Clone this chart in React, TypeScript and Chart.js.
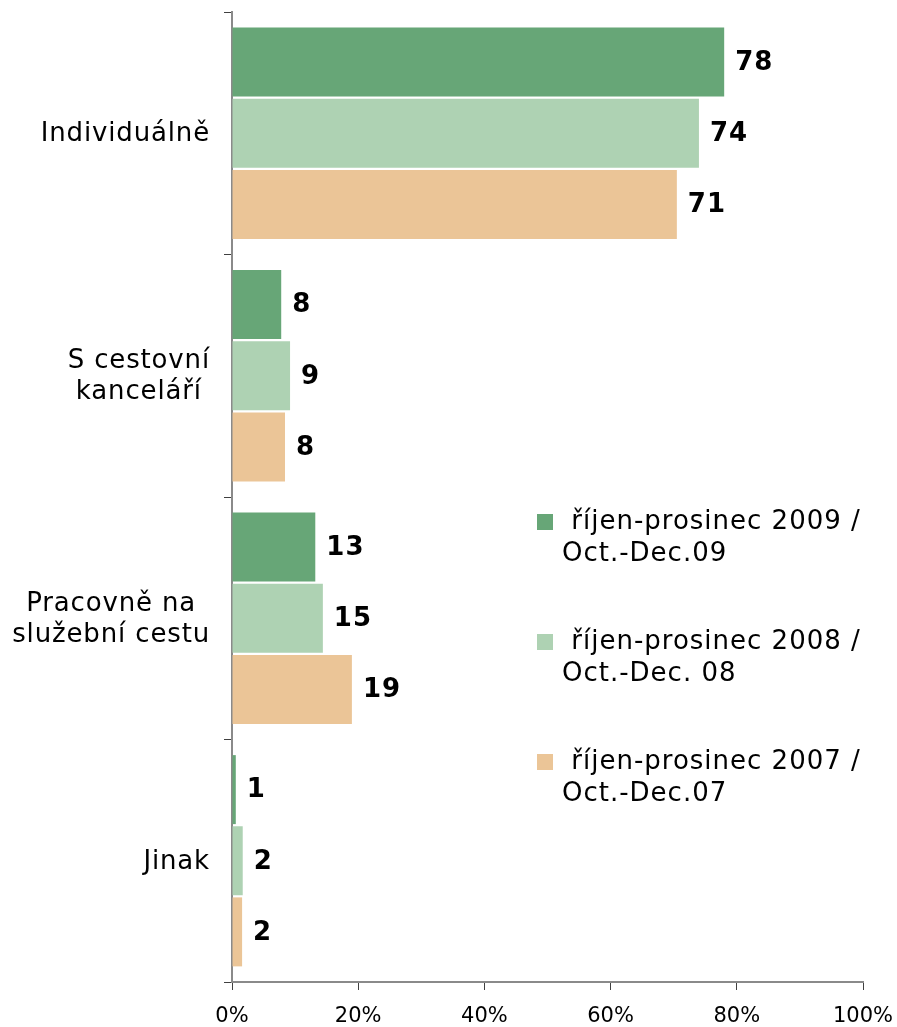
import React, { useEffect, useRef } from "react";
import { Chart, registerables } from "chart.js";

Chart.register(...registerables);

const categories: string[][] = [
  ["Individuálně"],
  ["S cestovní", "kanceláří"],
  ["Pracovně na", "služební cestu"],
  ["Jinak"],
];

const seriesNames: string[][] = [
  ["říjen-prosinec 2009 /", "Oct.-Dec.09"],
  ["říjen-prosinec 2008 /", "Oct.-Dec. 08"],
  ["říjen-prosinec 2007 /", "Oct.-Dec.07"],
];

const values2009 = [78.0, 7.8, 13.2, 0.6];
const values2008 = [74.0, 9.2, 14.4, 1.7];
const values2007 = [70.5, 8.4, 19.0, 1.6];

const labels2009 = ["78", "8", "13", "1"];
const labels2008 = ["74", "9", "15", "2"];
const labels2007 = ["71", "8", "19", "2"];

const xTicks = [0, 20, 40, 60, 80, 100];

const colors = ["#67A677", "#AED2B3", "#EBC597"];
const FONT = "'DejaVu Sans', Verdana, sans-serif";

const dataLabelPlugin = {
  id: "dataLabels",
  afterDatasetsDraw(chart: any) {
    const ctx = chart.ctx;
    const allLabels = [labels2009, labels2008, labels2007];
    ctx.save();
    ctx.font = `bold 26px ${FONT}`;
    (ctx as any).letterSpacing = "1px";
    ctx.fillStyle = "#000";
    ctx.textAlign = "left";
    ctx.textBaseline = "middle";
    chart.data.datasets.forEach((ds: any, di: number) => {
      const meta = chart.getDatasetMeta(di);
      meta.data.forEach((el: any, i: number) => {
        ctx.fillText(allLabels[di][i], el.x + 11, el.y + 1);
      });
    });
    ctx.restore();
  },
};

const categoryLabelPlugin = {
  id: "catLabels",
  afterDraw(chart: any) {
    const ctx = chart.ctx;
    const yScale = chart.scales.y;
    ctx.save();
    ctx.font = `26px ${FONT}`;
    (ctx as any).letterSpacing = "0.85px";
    ctx.fillStyle = "#000";
    ctx.textBaseline = "middle";
    ctx.textAlign = "center";
    const right = chart.chartArea.left - 22;
    const lh = 31;
    categories.forEach((lines, i) => {
      const cy = yScale.getPixelForValue(i) + 1;
      const w = Math.max(...lines.map((l) => ctx.measureText(l).width));
      const cx = right - w / 2;
      lines.forEach((l, j) => {
        ctx.fillText(l, cx, cy + (j - (lines.length - 1) / 2) * lh);
      });
    });
    ctx.restore();
  },
};

const legendPlugin = {
  id: "customLegend",
  afterDraw(chart: any) {
    const ctx = chart.ctx;
    ctx.save();
    ctx.font = `26px ${FONT}`;
    (ctx as any).letterSpacing = "1px";
    ctx.textBaseline = "middle";
    ctx.textAlign = "left";
    const x0 = 537;
    const y0 = 522;
    seriesNames.forEach((lines, i) => {
      const y = y0 + i * 120;
      ctx.fillStyle = colors[i];
      ctx.fillRect(x0, y - 8, 16, 16);
      ctx.fillStyle = "#000";
      ctx.fillText(" " + lines[0], x0 + 25, y);
      ctx.fillText(lines[1], x0 + 25, y + 32);
    });
    ctx.restore();
  },
};

export default function App() {
  const ref = useRef<HTMLCanvasElement>(null);
  useEffect(() => {
    if (!ref.current) return;
    const chart = new Chart(ref.current, {
      type: "bar",
      data: {
        labels: categories.map((c) => c.join(" ")),
        datasets: [
          { label: seriesNames[0].join(" "), data: values2009, backgroundColor: colors[0] },
          { label: seriesNames[1].join(" "), data: values2008, backgroundColor: colors[1] },
          { label: seriesNames[2].join(" "), data: values2007, backgroundColor: colors[2] },
        ],
      },
      options: {
        indexAxis: "y",
        responsive: false,
        animation: false,
        devicePixelRatio: 1,
        layout: { padding: { top: 12, right: 34, left: 0, bottom: 0 } },
        datasets: { bar: { categoryPercentage: 0.88, barPercentage: 0.97 } },
        plugins: { legend: { display: false }, tooltip: { enabled: false } },
        scales: {
          x: {
            min: 0,
            max: 100,
            afterBuildTicks: (s: any) => {
              s.ticks = xTicks.map((v) => ({ value: v }));
            },
            afterFit: (s: any) => {
              s.height = 45;
              s.paddingLeft = 0;
              s.paddingRight = 0;
            },
            ticks: {
              callback: (v: any) => v + "%",
              font: { family: FONT, size: 21 },
              color: "#000",
              padding: 14,
              maxRotation: 0,
            },
            grid: {
              drawOnChartArea: false,
              drawTicks: true,
              tickLength: 8,
              color: "#404040",
            },
            border: { display: true, color: "#8a8a8a", width: 2 },
          },
          y: {
            afterFit: (s: any) => {
              s.width = 232;
              s.paddingTop = 0;
              s.paddingBottom = 0;
            },
            ticks: { display: false },
            grid: {
              offset: true,
              drawOnChartArea: false,
              drawTicks: true,
              tickLength: 8,
              color: "#404040",
            },
            border: { display: true, color: "#8a8a8a", width: 2 },
          },
        },
      },
      plugins: [dataLabelPlugin, categoryLabelPlugin, legendPlugin],
    });
    return () => chart.destroy();
  }, []);
  return (
    <div style={{ position: "fixed", left: 0, top: 0, width: 897, height: 1027, background: "#fff" }}>
      <canvas ref={ref} width={897} height={1027} style={{ display: "block", width: 897, height: 1027 }} />
    </div>
  );
}
